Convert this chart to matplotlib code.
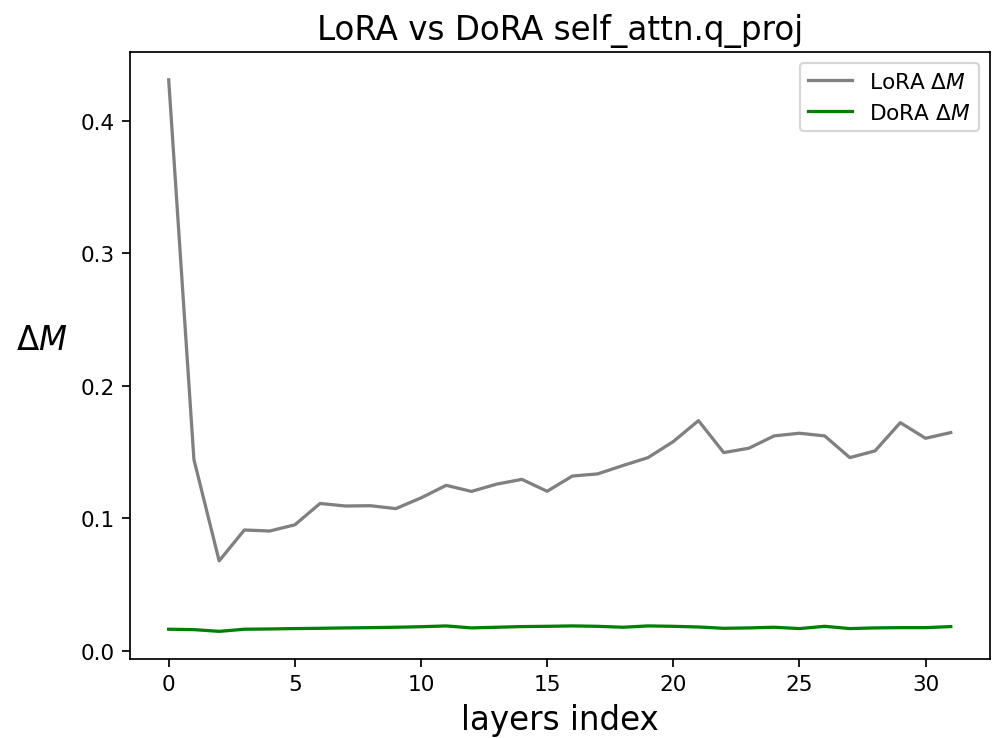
import matplotlib

matplotlib.use("Agg")

import matplotlib.pyplot as plt

# values, one per layer (0..31)
layers = list(range(32))
lora_dm = [
    0.431, 0.1445, 0.068, 0.0913, 0.0905, 0.0952, 0.1113, 0.1094,
    0.1096, 0.1074, 0.1155, 0.125, 0.1204, 0.1259, 0.1295, 0.1205,
    0.132, 0.1336, 0.1399, 0.1459, 0.158, 0.1738, 0.1497, 0.153,
    0.1623, 0.1643, 0.1623, 0.1459, 0.151, 0.1723, 0.1605, 0.1648,
]
dora_dm = [
    0.0164, 0.0161, 0.0148, 0.0164, 0.0166, 0.0169, 0.0171, 0.0174,
    0.0176, 0.0179, 0.0183, 0.0189, 0.0174, 0.0179, 0.0184, 0.0186,
    0.0189, 0.0186, 0.0179, 0.0189, 0.0186, 0.0181, 0.0171, 0.0174,
    0.0179, 0.0169, 0.0186, 0.0169, 0.0174, 0.0176, 0.0176, 0.0184,
]

fig = plt.figure(figsize=(6.39, 4.737), dpi=156)
ax = fig.add_axes([0.130, 0.107, 0.863, 0.821])

ax.plot(layers, lora_dm, color="gray", label=r"LoRA $\Delta M$")
ax.plot(layers, dora_dm, color="green", label=r"DoRA $\Delta M$")

ax.set_title("LoRA vs DoRA self_attn.q_proj", fontsize=15)
ax.set_xlabel("layers index", fontsize=15)
ax.set_ylabel(r"$\Delta M$", fontsize=15, rotation=0, ha="right", labelpad=6)
ax.legend(loc="upper right")

fig.savefig("out.png", dpi=156)
plt.close(fig)
